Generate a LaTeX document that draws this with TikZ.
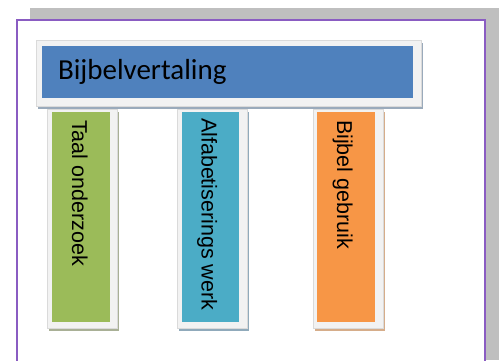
\documentclass[tikz,border=0pt]{standalone}
\usepackage{fontspec}
\usetikzlibrary{positioning,shadows}

\newfontfamily\titelfont{Carlito}
\newfontfamily\zijfont{Liberation Sans}

\definecolor{blauw}{HTML}{4F81BD}
\definecolor{groen}{HTML}{9BBB59}
\definecolor{turkoois}{HTML}{4BACC6}
\definecolor{oranje}{HTML}{F79646}
\definecolor{blauwschaduw}{HTML}{9AAABB}
\definecolor{groenschaduw}{HTML}{A9B096}
\definecolor{turkooisschaduw}{HTML}{90AABB}
\definecolor{oranjeschaduw}{HTML}{D6AD8A}
\definecolor{randgrijs}{HTML}{F2F2F2}
\definecolor{randlijn}{HTML}{DADADA}
\definecolor{achtergrond}{HTML}{BFBFBF}
\definecolor{paars}{HTML}{8A5CC2}

\tikzset{
	kader/.style={fill=randgrijs, draw=randlijn, line width=0.6pt, inner sep=0pt,
		drop shadow={shadow xshift=2pt, shadow yshift=-3pt, fill=#1, opacity=1}},
	vlak/.style={fill=#1, draw=none, inner sep=0pt},
	vtekst/.style={rotate=-90, anchor=base west, inner sep=0pt,
		font=\zijfont\fontsize{21.5}{24}\selectfont}
}

\begin{document}
\begin{tikzpicture}[x=1pt,y=-1pt]
		\useasboundingbox (0,0) rectangle (501,360);
		%Achtergrond
		\fill[achtergrond] (30,8) rectangle (499,360);
		\draw[paars, line width=1.2pt, fill=white] (17,20) rectangle (485,372);
		%Titel
		\node[kader=blauwschaduw, minimum width=385pt, minimum height=66pt] (titelkader) at (228.5,73) {};
		\node[vlak=blauw, minimum width=371pt, minimum height=52pt] (titel) at (227.5,72) {};
		\node[right=16pt of titel.west, inner sep=0pt, font=\titelfont\fontsize{29}{32}\selectfont] (titeltekst) {Bijbelvertaling};
		%Kolommen
		\node[kader=groenschaduw, minimum width=70pt, minimum height=219pt] (taalkader) at (82,218.5) {};
		\node[vlak=groen, minimum width=58pt, minimum height=210pt] (taal) at (81,217) {};
		\node[vtekst] (taaltekst) at ([xshift=-9pt,yshift=-8pt]taal.north) {Taal onderzoek};
		\node[kader=turkooisschaduw, minimum width=70pt, minimum height=219pt] (alfakader) at (212,218.5) {};
		\node[vlak=turkoois, minimum width=57pt, minimum height=210pt] (alfa) at (210.5,217) {};
		\node[vtekst] (alfatekst) at ([xshift=-9pt,yshift=-6pt]alfa.north) {Alfabetiserings werk};
		\node[kader=oranjeschaduw, minimum width=70pt, minimum height=219pt] (gebruikkader) at (348,218.5) {};
		\node[vlak=oranje, minimum width=58pt, minimum height=210pt] (gebruik) at (346,217) {};
		\node[vtekst] (gebruiktekst) at ([xshift=-9pt,yshift=-8pt]gebruik.north) {Bijbel gebruik};
\end{tikzpicture}
\end{document}
